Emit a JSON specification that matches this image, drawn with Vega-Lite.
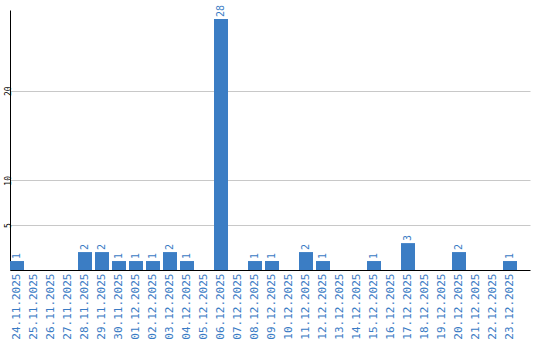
{
  "$schema": "https://vega.github.io/schema/vega-lite/v6.json",
  "autosize": "none",
  "padding": {"left": 10, "top": 10, "right": 10, "bottom": 70},
  "width": 520,
  "height": 260,
  "background": "white",
  "config": {"view": {"stroke": null}},
  "data": {"values": [
    {"date": "24.11.2025", "count": 1},
    {"date": "25.11.2025", "count": 0},
    {"date": "26.11.2025", "count": 0},
    {"date": "27.11.2025", "count": 0},
    {"date": "28.11.2025", "count": 2},
    {"date": "29.11.2025", "count": 2},
    {"date": "30.11.2025", "count": 1},
    {"date": "01.12.2025", "count": 1},
    {"date": "02.12.2025", "count": 1},
    {"date": "03.12.2025", "count": 2},
    {"date": "04.12.2025", "count": 1},
    {"date": "05.12.2025", "count": 0},
    {"date": "06.12.2025", "count": 28},
    {"date": "07.12.2025", "count": 0},
    {"date": "08.12.2025", "count": 1},
    {"date": "09.12.2025", "count": 1},
    {"date": "10.12.2025", "count": 0},
    {"date": "11.12.2025", "count": 2},
    {"date": "12.12.2025", "count": 1},
    {"date": "13.12.2025", "count": 0},
    {"date": "14.12.2025", "count": 0},
    {"date": "15.12.2025", "count": 1},
    {"date": "16.12.2025", "count": 0},
    {"date": "17.12.2025", "count": 3},
    {"date": "18.12.2025", "count": 0},
    {"date": "19.12.2025", "count": 0},
    {"date": "20.12.2025", "count": 2},
    {"date": "21.12.2025", "count": 0},
    {"date": "22.12.2025", "count": 0},
    {"date": "23.12.2025", "count": 1}
  ]},
  "encoding": {
    "x": {
      "field": "date", "type": "nominal", "sort": null,
      "scale": {"paddingInner": 0.1765, "paddingOuter": 0.382, "align": 0},
      "axis": {
        "title": null, "labelAngle": -90, "ticks": false, "domainColor": "#000000",
        "labelColor": "#3a7bc4", "labelFont": "DejaVu Sans Mono", "labelFontSize": 11,
        "labelPadding": 3, "grid": false
      }
    },
    "y": {
      "field": "count", "type": "quantitative",
      "scale": {"domain": [0, 29.0], "nice": false, "zero": true},
      "axis": {
        "title": null, "values": [5, 10, 20], "ticks": false, "domainColor": "#000000",
        "labelAngle": -90, "labelFont": "DejaVu Sans Mono", "labelFontSize": 8,
        "labelColor": "#000000", "labelPadding": 2, "labelBaseline": "middle", "labelAlign": "center",
        "grid": true, "gridColor": "#c8c8c8"
      }
    }
  },
  "layer": [
    {"mark": {"type": "bar", "color": "#3b7dc4"}},
    {
      "transform": [{"filter": "datum.count > 0"}],
      "mark": {"type": "text", "angle": -90, "align": "left", "baseline": "middle", "dx": 2,
               "font": "DejaVu Sans Mono", "fontSize": 10, "color": "#3a7bc4"},
      "encoding": {"text": {"field": "count", "type": "quantitative"}}
    }
  ]
}
